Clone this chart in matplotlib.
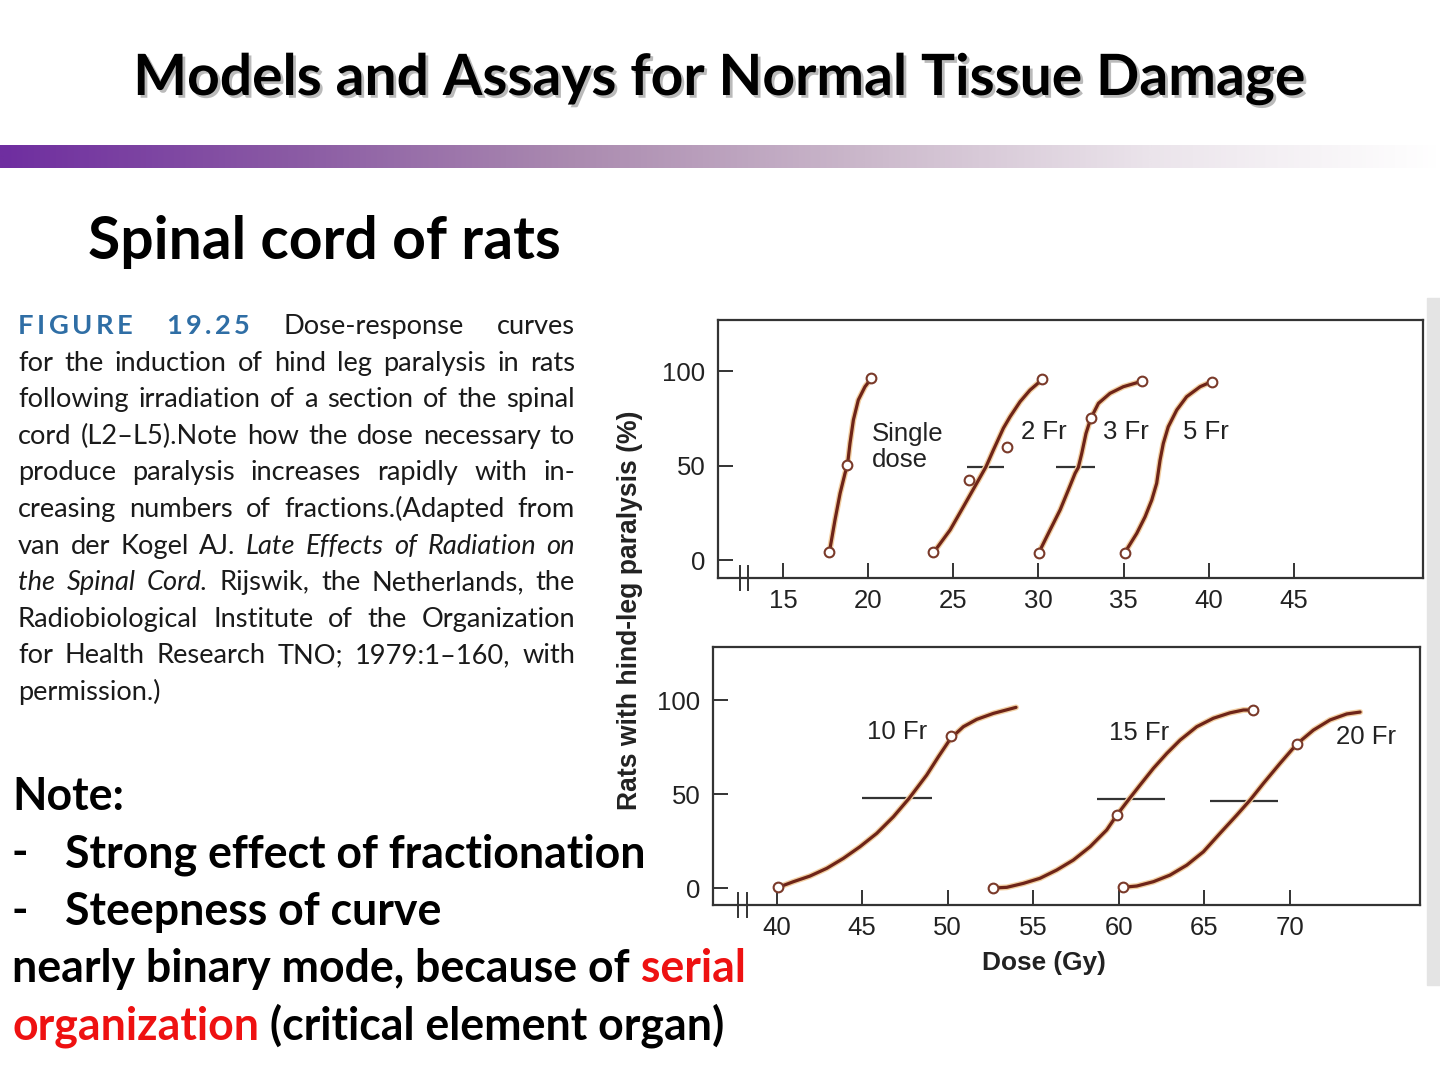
import matplotlib
matplotlib.use("Agg")
import matplotlib.pyplot as plt
import matplotlib.patheffects as pe
from matplotlib.colors import LinearSegmentedColormap
from matplotlib.transforms import blended_transform_factory
import numpy as np

# ---------------- data ----------------
# top panel: single dose, 2, 3, 5 fractions
single_cx = [17.70, 17.76, 18.05, 18.35, 18.64, 18.78, 18.93, 19.13, 19.42, 19.81, 20.11, 20.17]
single_cy = [4.1, 6.2, 21.2, 35.3, 45.9, 50.1, 61.7, 74.1, 84.7, 91.7, 95.2, 96.1]
single_px = [17.70, 18.78, 20.17]
single_py = [4.1, 50.1, 96.1]

two_cx = [23.79, 24.02, 24.81, 25.59, 26.37, 26.92, 27.35, 27.94, 28.33, 28.92, 29.50, 30.23]
two_cy = [4.1, 6.2, 15.9, 28.2, 40.6, 49.4, 58.2, 69.8, 75.8, 83.8, 89.9, 95.6]
two_px = [23.79, 25.92, 28.13, 30.23]
two_py = [4.1, 42.3, 59.6, 95.6]

three_cx = [30.03, 30.19, 30.68, 31.27, 31.75, 32.15, 32.34, 32.54, 32.79, 33.07, 33.52, 34.20, 34.98, 35.77, 36.10]
three_cy = [3.9, 7.0, 15.9, 26.5, 37.0, 45.9, 49.0, 56.4, 67.0, 74.9, 82.9, 88.2, 91.7, 93.8, 94.9]
three_px = [30.03, 33.07, 36.10]
three_py = [3.9, 74.9, 94.9]

five_cx = [35.08, 35.28, 35.77, 36.26, 36.65, 36.94, 37.14, 37.33, 37.62, 38.12, 38.70, 39.49, 40.17]
five_cy = [3.9, 7.0, 14.1, 22.9, 31.7, 40.6, 52.9, 61.7, 70.5, 79.4, 86.4, 91.7, 94.4]
five_px = [35.08, 40.17]
five_py = [3.9, 94.4]

top_bar_x0 = [25.8, 31.0]
top_bar_x1 = [28.0, 33.3]
top_bar_y = [49.4, 49.0]

top_labels = ["Single\ndose", "2 Fr", "3 Fr", "5 Fr"]
top_label_x = [20.2, 29.0, 33.8, 38.5]
top_label_y = [59.8, 67.7, 67.7, 67.7]
top_xticks = [15, 20, 25, 30, 35, 40, 45]

# bottom panel: 10, 15, 20 fractions
ten_cx = [40.10, 40.98, 41.95, 42.93, 43.90, 44.87, 45.85, 46.82, 47.74, 48.77, 49.45, 50.17, 50.91, 51.69, 52.67, 53.99]
ten_cy = [0.4, 3.4, 6.4, 10.5, 15.8, 22.0, 29.1, 37.9, 47.7, 60.1, 69.8, 79.6, 85.8, 89.7, 92.9, 96.1]
ten_px = [40.10, 50.17]
ten_py = [0.4, 80.9]

fifteen_cx = [52.63, 53.45, 54.42, 55.39, 56.37, 57.34, 58.32, 59.29, 59.88, 60.55, 61.24, 62.02, 62.80, 63.58, 64.55, 65.52, 66.50, 67.28, 67.83]
fifteen_cy = [0.0, 0.4, 2.5, 5.2, 9.6, 14.9, 22.0, 30.9, 38.8, 46.8, 54.8, 63.7, 71.6, 78.7, 85.8, 90.3, 93.2, 94.7, 94.7]
fifteen_px = [52.63, 59.88, 67.83]
fifteen_py = [0.0, 38.8, 94.7]

twenty_cx = [60.23, 61.05, 62.02, 62.99, 63.97, 64.94, 65.91, 66.89, 67.67, 68.45, 69.42, 70.40, 71.37, 72.34, 73.32, 74.10]
twenty_cy = [0.4, 1.1, 3.4, 6.9, 12.2, 19.3, 29.1, 38.8, 46.8, 55.7, 66.3, 76.6, 84.0, 89.4, 92.6, 93.6]
twenty_px = [60.23, 70.40]
twenty_py = [0.4, 76.6]

bot_bar_x0 = [45.0, 58.7, 65.3]
bot_bar_x1 = [49.1, 62.7, 69.3]
bot_bar_y = [47.7, 47.2, 46.4]

bot_labels = ["10 Fr", "15 Fr", "20 Fr"]
bot_label_x = [45.3, 59.4, 72.7]
bot_label_y = [83.1, 82.3, 80.5]
bot_xticks = [40, 45, 50, 55, 60, 65, 70]

yticks = [0, 50, 100]

# slide text
title = "Models and Assays for Normal Tissue Damage"
subtitle = "Spinal cord of rats"
caption_lines = [
    "FIGURE 19.25 Dose-response curves",
    "for the induction of hind leg paralysis in rats",
    "following irradiation of a section of the spinal",
    "cord (L2\u2013L5).Note how the dose necessary to",
    "produce paralysis increases rapidly with in-",
    "creasing numbers of fractions.(Adapted from",
    "van der Kogel AJ. *Late *Effects *of *Radiation *on",
    "*the *Spinal *Cord. Rijswik, the Netherlands, the",
    "Radiobiological Institute of the Organization",
    "for Health Research TNO; 1979:1\u2013160, with",
    "permission.)",
]
bar_colors = ["#6f2ea0", "#8a5aa4", "#ab8bb0", "#cbb8cb", "#ebe4eb", "#ffffff"]

# ---------------- figure ----------------
W, H = 1440, 1080
fig = plt.figure(figsize=(14.4, 10.8), dpi=100)
fig.patch.set_facecolor("white")
r = fig.canvas.get_renderer()


def fx(px):
    return px / W


def fy(py):
    return 1 - py / H


def text_w(s, **kw):
    t = fig.text(0, 0, s, **kw)
    w = t.get_window_extent(r).width
    t.remove()
    return w


def fit_size(s, target, **kw):
    return 10 * target / text_w(s, fontsize=10, **kw)


SLIDE_FONT = "Lato"
CHART_FONT = "Liberation Sans"
CAP_FONT = "Lato"

# title with a soft shadow
ts = fit_size(title, 1175, family=SLIDE_FONT, weight="bold")
fig.text(fx(720), fy(95), title, family=SLIDE_FONT, weight="bold", fontsize=ts,
         ha="center", va="baseline", color="black",
         path_effects=[pe.SimplePatchShadow(offset=(2, -2), shadow_rgbFace="#777777", alpha=0.5),
                       pe.Normal()])

# gradient band
ax_band = fig.add_axes([0, fy(168), 1, (168 - 145) / H])
cmap = LinearSegmentedColormap.from_list("band", bar_colors)
ax_band.imshow(np.linspace(0, 1, 512)[None, :], aspect="auto", cmap=cmap)
ax_band.axis("off")

ss = fit_size(subtitle, 474, family=SLIDE_FONT, weight="bold")
fig.text(fx(88), fy(259), subtitle, family=SLIDE_FONT, weight="bold", fontsize=ss,
         va="baseline", color="black")

# ---------------- justified caption ----------------
CAP_L, CAP_R = 18, 575
BLUE = "#2f6ea5"
TRACK = 3.5


def parse(word):
    if word in ("FIGURE", "19.25"):
        return word, dict(weight="bold", color=BLUE), True
    if word.startswith("*"):
        return word[1:], dict(style="italic"), False
    return word, {}, False


def word_w(word, size):
    s, kw, tracked = parse(word)
    if tracked:
        return sum(text_w(c, family=CAP_FONT, fontsize=size, **kw) for c in s) + TRACK * (len(s) - 1)
    return text_w(s, family=CAP_FONT, fontsize=size, **kw)


plain = [ln.replace("*", "") for ln in caption_lines]
cs = min(fit_size(ln, CAP_R - CAP_L, family=CAP_FONT) for ln in plain) * 0.98
space = text_w("n n", family=CAP_FONT, fontsize=cs) - text_w("nn", family=CAP_FONT, fontsize=cs)

for i, ln in enumerate(caption_lines):
    words = ln.split(" ")
    widths = [word_w(w, cs) for w in words]
    if i < len(caption_lines) - 1 and len(words) > 1:
        gap = (CAP_R - CAP_L - sum(widths)) / (len(words) - 1)
    else:
        gap = space
    base = 334 + i * 36.6
    x = CAP_L
    for w, ww in zip(words, widths):
        s, kw, tracked = parse(w)
        kw = dict(kw)
        kw.setdefault("color", "#1a1a1a")
        if tracked:
            cx = x
            for c in s:
                fig.text(fx(cx), fy(base), c, family=CAP_FONT, fontsize=cs, va="baseline", **kw)
                cx += text_w(c, family=CAP_FONT, fontsize=cs, **kw) + TRACK
        else:
            fig.text(fx(x), fy(base), s, family=CAP_FONT, fontsize=cs, va="baseline", **kw)
        x += ww + gap

# ---------------- notes ----------------
ns = fit_size("Strong effect of fractionation", 573, family=SLIDE_FONT, weight="bold") * 1.015
nkw = dict(family=SLIDE_FONT, weight="bold", fontsize=ns, va="baseline")
fig.text(fx(12), fy(810), "Note:", color="black", **nkw)
fig.text(fx(12), fy(867), "-", color="black", **nkw)
fig.text(fx(65), fy(867), "Strong effect of fractionation", color="black", **nkw)
fig.text(fx(12), fy(925), "-", color="black", **nkw)
fig.text(fx(65), fy(925), "Steepness of curve", color="black", **nkw)

seg_lines = [
    (982, [("nearly binary mode, because of", "black"), (" serial", "#ee1111")]),
    (1040, [("organization", "#ee1111"), (" (critical element organ)", "black")]),
]
for base, segs in seg_lines:
    x = 12
    for s, col in segs:
        fig.text(fx(x), fy(base), s, color=col, **nkw)
        x += text_w(s, family=SLIDE_FONT, weight="bold", fontsize=ns)

# ---------------- chart panels ----------------
BROWN = "#6e2418"
HALO = "#f2cfa2"
AX_COL = "#333333"
TXT_COL = "#222222"


def style_axes(ax, xticks, xlim, ylim):
    ax.set_xlim(*xlim)
    ax.set_ylim(*ylim)
    ax.set_xticks(xticks)
    ax.set_yticks(yticks)
    for sp in ax.spines.values():
        sp.set_color(AX_COL)
        sp.set_linewidth(1.6)
    ax.tick_params(axis="both", direction="in", length=11, width=1.4, color=AX_COL,
                   labelsize=18.5, labelcolor=TXT_COL)
    ax.tick_params(axis="y", pad=9)
    ax.tick_params(axis="x", pad=8)
    for lab in ax.get_xticklabels() + ax.get_yticklabels():
        lab.set_family(CHART_FONT)


def draw_curve(ax, cx, cy, px, py):
    ax.plot(cx, cy, color=BROWN, lw=2.3, solid_joinstyle="round", solid_capstyle="round",
            path_effects=[pe.Stroke(linewidth=4.2, foreground=HALO), pe.Normal()], zorder=3)
    ax.plot(px, py, "o", ms=7, mfc="white", mec="#7a3a2a", mew=1.5, zorder=4)


def draw_break(ax, xs):
    tr = blended_transform_factory(ax.transData, ax.transAxes)
    for bx in xs:
        ax.plot([bx, bx], [-0.045, 0.045], color=AX_COL, lw=1.4, transform=tr, clip_on=False)


ax1 = fig.add_axes([fx(718), fy(578), (1423 - 718) / W, (578 - 320) / H])
style_axes(ax1, top_xticks, (11.18, 52.58), (-9.5, 127.0))
for cx, cy, px, py in [(single_cx, single_cy, single_px, single_py),
                       (two_cx, two_cy, two_px, two_py),
                       (three_cx, three_cy, three_px, three_py),
                       (five_cx, five_cy, five_px, five_py)]:
    draw_curve(ax1, cx, cy, px, py)
ax1.hlines(top_bar_y, top_bar_x0, top_bar_x1, color="#333333", lw=1.6, zorder=2)
for s, x, y in zip(top_labels, top_label_x, top_label_y):
    ax1.text(x, y, s, family=CHART_FONT, fontsize=18.5, color=TXT_COL, ha="left", va="center",
             linespacing=1.15)
draw_break(ax1, [12.48, 12.95])

ax2 = fig.add_axes([fx(713), fy(905), (1420 - 713) / W, (905 - 647) / H])
style_axes(ax2, bot_xticks, (36.28, 77.6), (-9.0, 128.2))
for cx, cy, px, py in [(ten_cx, ten_cy, ten_px, ten_py),
                       (fifteen_cx, fifteen_cy, fifteen_px, fifteen_py),
                       (twenty_cx, twenty_cy, twenty_px, twenty_py)]:
    draw_curve(ax2, cx, cy, px, py)
ax2.hlines(bot_bar_y, bot_bar_x0, bot_bar_x1, color="#333333", lw=1.6, zorder=2)
for s, x, y in zip(bot_labels, bot_label_x, bot_label_y):
    ax2.text(x, y, s, family=CHART_FONT, fontsize=18.5, color=TXT_COL, ha="left", va="center")
draw_break(ax2, [37.74, 38.27])

ylab = "Rats with hind-leg paralysis (%)"
ys = fit_size(ylab, 400, family=CHART_FONT, weight="bold")
fig.text(fx(630), fy(610), ylab, family=CHART_FONT, weight="bold", fontsize=ys,
         rotation=90, ha="center", va="center", color=TXT_COL)
xs = fit_size("Dose (Gy)", 124, family=CHART_FONT, weight="bold")
fig.text(fx(1044), fy(963), "Dose (Gy)", family=CHART_FONT, weight="bold", fontsize=xs,
         ha="center", va="center", color=TXT_COL)

# scanned page edge on the right
fig.patches.append(plt.Rectangle((fx(1427), fy(985)), (1440 - 1427) / W, (985 - 298) / H,
                                 transform=fig.transFigure, color="#e4e4e4", zorder=0))

fig.savefig("out.png", dpi=100, facecolor="white")
